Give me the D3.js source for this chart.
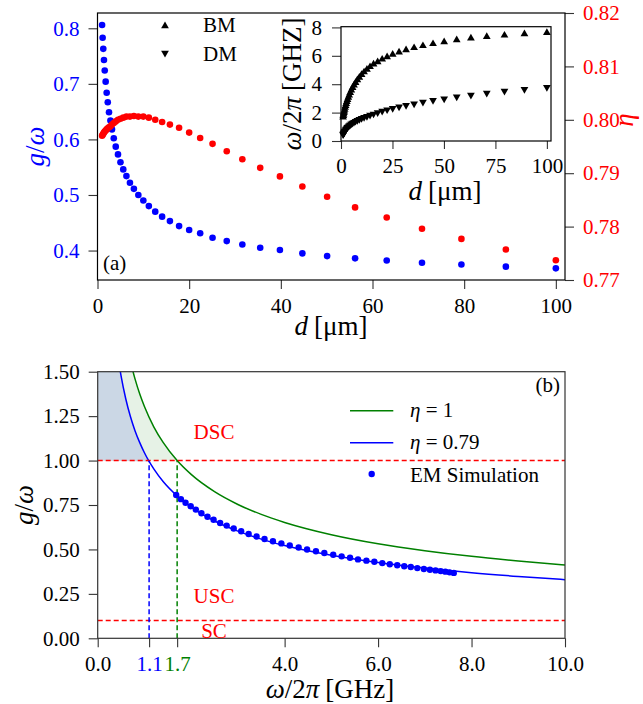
<!DOCTYPE html>
<html><head><meta charset="utf-8">
<script src="https://cdn.jsdelivr.net/npm/d3@7"></script>
<style>body{margin:0;background:#fff} svg text{font-family:"Liberation Serif","Times New Roman",serif}</style>
</head><body><svg id="c" width="643" height="704"></svg>
<script>
// ---------- data ----------
const dValues = [1,1.12,1.26,1.41,1.58,1.78,2,2.24,2.51,2.82,3.16,3.55,3.98,4.47,5.01,5.62,6.31,7.08,7.94,8.91,10,11.2,12.6,14.1,15.8,17.8,20,22.4,25.1,28.2,31.6,35.5,39.8,44.7,50.1,56.2,63.1,70.8,79.4,89.1,100];
const gOverOmega = [0.806,0.783,0.763,0.743,0.724,0.704,0.684,0.667,0.649,0.634,0.618,0.602,0.587,0.573,0.559,0.546,0.534,0.522,0.511,0.500,0.490,0.480,0.470,0.461,0.453,0.444,0.437,0.431,0.423,0.417,0.411,0.405,0.401,0.395,0.390,0.386,0.382,0.378,0.375,0.371,0.368];
const etaValues = [0.7970,0.7972,0.7974,0.7976,0.7978,0.7980,0.7982,0.7984,0.7986,0.7988,0.7991,0.7994,0.7997,0.8000,0.8002,0.8004,0.8006,0.8006,0.8007,0.8006,0.8006,0.8004,0.8000,0.7996,0.7991,0.7985,0.7976,0.7966,0.7955,0.7941,0.7926,0.7910,0.7894,0.7875,0.7856,0.7836,0.7817,0.7796,0.7777,0.7757,0.7737];
const bmFreq = [1.68,1.78,1.88,1.99,2.10,2.22,2.35,2.48,2.62,2.76,2.91,3.07,3.23,3.40,3.57,3.75,3.93,4.11,4.30,4.48,4.67,4.85,5.04,5.22,5.40,5.57,5.75,5.92,6.09,6.25,6.41,6.56,6.70,6.84,6.98,7.11,7.23,7.34,7.44,7.53,7.62];
const dmFreq = [0.45,0.49,0.53,0.58,0.63,0.68,0.73,0.79,0.85,0.91,0.97,1.03,1.09,1.15,1.21,1.27,1.33,1.40,1.46,1.53,1.60,1.67,1.75,1.83,1.91,2.01,2.11,2.21,2.31,2.41,2.51,2.63,2.75,2.87,2.98,3.12,3.24,3.38,3.52,3.65,3.79];

const topXTicks = [0,20,40,60,80,100];
const topLeftTicks = [0.4,0.5,0.6,0.7,0.8];
const topRightTicks = [0.77,0.78,0.79,0.80,0.81,0.82];
const insetXTicks = [0,25,50,75,100];
const insetYTicks = [0,2,4,6,8];

const omegaEta1 = [0.75,0.8,0.9,1.0,1.2,1.4,1.7,2.0,2.5,3.0,3.5,4.0,5.0,6.0,7.0,8.0,9.0,10.0];
const gEta1     = [1.506,1.458,1.374,1.304,1.190,1.102,1.000,0.922,0.825,0.753,0.697,0.652,0.583,0.532,0.493,0.461,0.435,0.412];
const omegaEta079 = [0.48,0.5,0.6,0.7,0.8,0.9,1.0,1.1,1.2,1.4,1.7,2.0,2.5,3.0,3.5,4.0,5.0,6.0,7.0,8.0,9.0,10.0];
const gEta079     = [1.507,1.476,1.348,1.248,1.167,1.101,1.044,0.995,0.953,0.882,0.801,0.738,0.660,0.603,0.558,0.522,0.467,0.426,0.395,0.369,0.348,0.330];

const bottomXTicks = [0,1.1,1.7,4,6,8,10];
const bottomXTickLabels = ["0.0","1.1","1.7","4.0","6.0","8.0","10.0"];
const bottomXTickColors = ["#000","#0000ff","#008000","#000","#000","#000","#000"];
const bottomYTicks = [0,0.25,0.5,0.75,1.0,1.25,1.5];
const dscLevel = 1.0, scLevel = 0.1;
const crossEta079 = 1.1, crossEta1 = 1.7;

// ---------- drawing ----------
const svg = d3.select('#c');
const FONT = '"Liberation Serif","Times New Roman",serif';
const TICK = '#333';
const FS = 21, LFS = 27;

function styleAxis(g, color){
  g.select('.domain').remove();
  g.selectAll('.tick line').attr('stroke',TICK).attr('stroke-width',1.1);
  g.selectAll('.tick text').attr('fill',color).attr('font-size',FS).attr('font-family',FONT);
}
function mathD(t){ t.append('tspan').attr('font-style','italic').text('d'); t.append('tspan').attr('dx',6).text('[μm]'); }
function mathG(t){ t.append('tspan').attr('font-style','italic').text('g'); t.append('tspan').text('/'); t.append('tspan').attr('font-style','italic').text('ω'); }
function mathW(t,unit){ t.append('tspan').attr('font-style','italic').text('ω'); t.append('tspan').text('/2'); t.append('tspan').attr('font-style','italic').text('π'); t.append('tspan').attr('dx',6).text(unit); }

// ===== Panel (a) =====
const xA = d3.scaleLinear([0,102],[97.5,565]);
const yL = d3.scaleLinear([0.347,0.8275],[280,13]);
const yR = d3.scaleLinear([0.77,0.82],[280,13]);

svg.append('g').attr('transform','translate(0,280)')
  .call(d3.axisBottom(xA).tickValues(topXTicks).tickSize(9).tickPadding(9).tickFormat(d3.format('d')))
  .call(g=>styleAxis(g,'#000'));
svg.append('g').attr('transform','translate(97.5,0)')
  .call(d3.axisLeft(yL).tickValues(topLeftTicks).tickSize(9).tickPadding(9).tickFormat(d3.format('.1f')))
  .call(g=>styleAxis(g,'#0000ff'));
svg.append('g').attr('transform','translate(565,0)')
  .call(d3.axisRight(yR).tickValues(topRightTicks).tickSize(9).tickPadding(9).tickFormat(d3.format('.2f')))
  .call(g=>styleAxis(g,'#ff0000'));

const ptsA = dValues.map((d,i)=>({d, g:gOverOmega[i], e:etaValues[i], bm:bmFreq[i], dm:dmFreq[i]}));
svg.append('g').selectAll('circle').data(ptsA).join('circle')
  .attr('cx',p=>xA(p.d)).attr('cy',p=>yL(p.g)).attr('r',3.3).attr('fill','#0000ff');
svg.append('g').selectAll('circle').data(ptsA).join('circle')
  .attr('cx',p=>xA(p.d)).attr('cy',p=>yR(p.e)).attr('r',3.3).attr('fill','#ff0000');

svg.append('rect').attr('x',97.5).attr('y',13).attr('width',565-97.5).attr('height',280-13)
  .attr('fill','none').attr('stroke','#000').attr('stroke-width',1.2);

// legend (a)
const triUp = d3.symbol().type(d3.symbolTriangle).size(26);
svg.append('path').attr('d',triUp()).attr('transform','translate(165,26)').attr('fill','#000');
svg.append('path').attr('d',triUp()).attr('transform','translate(165,53) rotate(180)').attr('fill','#000');
svg.append('text').attr('x',203).attr('y',32).attr('font-size',FS).text('BM');
svg.append('text').attr('x',203).attr('y',61).attr('font-size',FS).text('DM');
svg.append('text').attr('x',103).attr('y',270).attr('font-size',FS).text('(a)');

// axis labels (a)
svg.append('text').attr('x',331).attr('y',335).attr('text-anchor','middle').attr('font-size',LFS).call(mathD);
svg.append('text').attr('transform','translate(44,146.5) rotate(-90)').attr('text-anchor','middle').attr('font-size',LFS).attr('fill','#0000ff').call(mathG);
svg.append('text').attr('transform','translate(633,120) rotate(-90)').attr('text-anchor','middle').attr('font-size',LFS).attr('fill','#ff0000')
  .attr('font-style','italic').text('η');

// inset
const xI = d3.scaleLinear([0,102],[341,551]);
const yI = d3.scaleLinear([0,8.05],[141,26.7]);
svg.append('rect').attr('x',341).attr('y',26.7).attr('width',551-341).attr('height',141-26.7).attr('fill','#fff');
svg.append('g').attr('transform','translate(0,141)')
  .call(d3.axisBottom(xI).tickValues(insetXTicks).tickSize(8).tickPadding(9).tickFormat(d3.format('d')))
  .call(g=>styleAxis(g,'#000'));
svg.append('g').attr('transform','translate(341,0)')
  .call(d3.axisLeft(yI).tickValues(insetYTicks).tickSize(9).tickPadding(10).tickFormat(d3.format('d')))
  .call(g=>styleAxis(g,'#000'));
svg.append('g').selectAll('path').data(ptsA).join('path')
  .attr('d',triUp()).attr('transform',p=>`translate(${xI(p.d)},${yI(p.bm)})`).attr('fill','#000');
svg.append('g').selectAll('path').data(ptsA).join('path')
  .attr('d',triUp()).attr('transform',p=>`translate(${xI(p.d)},${yI(p.dm)}) rotate(180)`).attr('fill','#000');
svg.append('rect').attr('x',341).attr('y',26.7).attr('width',551-341).attr('height',141-26.7)
  .attr('fill','none').attr('stroke','#000').attr('stroke-width',1.2);
svg.append('text').attr('x',445).attr('y',200).attr('text-anchor','middle').attr('font-size',LFS).call(mathD);
svg.append('text').attr('transform','translate(301,84) rotate(-90)').attr('text-anchor','middle').attr('font-size',LFS).call(t=>mathW(t,'[GHZ]'));

// ===== Panel (b) =====
const xB = d3.scaleLinear([0,10],[97.7,565]);
const yB = d3.scaleLinear([0,1.5],[638.3,371.7]);

svg.append('defs').append('clipPath').attr('id','clipB').append('rect')
  .attr('x',97.7).attr('y',371.7).attr('width',565-97.7).attr('height',638.3-371.7);
const plotB = svg.append('g').attr('clip-path','url(#clipB)');

const green = omegaEta1.map((w,i)=>({w,g:gEta1[i]}));
const blue = omegaEta079.map((w,i)=>({w,g:gEta079[i]}));
const line = d3.line().x(p=>xB(p.w)).y(p=>yB(p.g)).curve(d3.curveMonotoneX);

// shaded regions
const gSub = green.filter(p=>p.g>=dscLevel);
const bSub = blue.filter(p=>p.g>=dscLevel-0.01);
const x0 = xB(0), yTop = yB(1.5), yD = yB(dscLevel);
plotB.append('path').attr('d',`M${x0},${yTop}L`+line(gSub).slice(1)+`L${x0},${yD}Z`).attr('fill','#e6f2e6');
plotB.append('path').attr('d',`M${x0},${yTop}L`+line(bSub).slice(1)+`L${x0},${yD}Z`).attr('fill','#cbd7e5');

plotB.append('path').attr('d',line(green)).attr('fill','none').attr('stroke','#008000').attr('stroke-width',1.5);
plotB.append('path').attr('d',line(blue)).attr('fill','none').attr('stroke','#0000ff').attr('stroke-width',1.5);

// dashed lines
plotB.append('line').attr('x1',xB(0)).attr('x2',xB(10)).attr('y1',yB(dscLevel)).attr('y2',yB(dscLevel))
  .attr('stroke','#ff0000').attr('stroke-width',1.5).attr('stroke-dasharray','5,3');
plotB.append('line').attr('x1',xB(0)).attr('x2',xB(10)).attr('y1',yB(scLevel)).attr('y2',yB(scLevel))
  .attr('stroke','#ff0000').attr('stroke-width',1.5).attr('stroke-dasharray','5,3');
plotB.append('line').attr('x1',xB(crossEta079)).attr('x2',xB(crossEta079)).attr('y1',yB(0)).attr('y2',yB(dscLevel))
  .attr('stroke','#0000ff').attr('stroke-width',1.5).attr('stroke-dasharray','5,3');
plotB.append('line').attr('x1',xB(crossEta1)).attr('x2',xB(crossEta1)).attr('y1',yB(0)).attr('y2',yB(dscLevel))
  .attr('stroke','#008000').attr('stroke-width',1.5).attr('stroke-dasharray','5,3');

// EM simulation points
plotB.append('g').selectAll('circle').data(ptsA).join('circle')
  .attr('cx',p=>xB(p.bm)).attr('cy',p=>yB(p.g)).attr('r',3.2).attr('fill','#0000ff');

// axes (b)
const axB = svg.append('g').attr('transform','translate(0,638.3)')
  .call(d3.axisBottom(xB).tickValues(bottomXTicks).tickSize(9).tickPadding(9).tickFormat((v,i)=>bottomXTickLabels[i]));
styleAxis(axB,'#000');
axB.selectAll('.tick text').attr('fill',(v,i)=>bottomXTickColors[i]);
svg.append('g').attr('transform','translate(97.7,0)')
  .call(d3.axisLeft(yB).tickValues(bottomYTicks).tickSize(9).tickPadding(9).tickFormat(d3.format('.2f')))
  .call(g=>styleAxis(g,'#000'));
svg.append('rect').attr('x',97.7).attr('y',371.7).attr('width',565-97.7).attr('height',638.3-371.7)
  .attr('fill','none').attr('stroke','#333').attr('stroke-width',1.2);

// region labels
svg.append('text').attr('x',214).attr('y',439).attr('text-anchor','middle').attr('font-size',FS).attr('fill','#ff0000').text('DSC');
svg.append('text').attr('x',214).attr('y',602.5).attr('text-anchor','middle').attr('font-size',FS).attr('fill','#ff0000').text('USC');
svg.append('text').attr('x',214).attr('y',638).attr('text-anchor','middle').attr('font-size',FS).attr('fill','#ff0000').text('SC');
svg.append('text').attr('x',560).attr('y',392).attr('text-anchor','end').attr('font-size',FS).text('(b)');

// legend (b)
svg.append('line').attr('x1',350).attr('x2',393.3).attr('y1',410.7).attr('y2',410.7).attr('stroke','#008000').attr('stroke-width',1.5);
svg.append('line').attr('x1',350).attr('x2',393.3).attr('y1',442.7).attr('y2',442.7).attr('stroke','#0000ff').attr('stroke-width',1.5);
svg.append('circle').attr('cx',371.7).attr('cy',474).attr('r',3.2).attr('fill','#0000ff');
svg.append('text').attr('x',410).attr('y',417).attr('font-size',FS)
  .call(t=>{t.append('tspan').attr('font-style','italic').text('η');t.append('tspan').text(' = 1');});
svg.append('text').attr('x',410).attr('y',449).attr('font-size',FS)
  .call(t=>{t.append('tspan').attr('font-style','italic').text('η');t.append('tspan').text(' = 0.79');});
svg.append('text').attr('x',410).attr('y',481.5).attr('font-size',FS).text('EM Simulation');

// axis labels (b)
svg.append('text').attr('x',330).attr('y',698).attr('text-anchor','middle').attr('font-size',LFS).call(t=>mathW(t,'[GHz]'));
svg.append('text').attr('transform','translate(33,505) rotate(-90)').attr('text-anchor','middle').attr('font-size',LFS).call(mathG);
</script></body></html>
